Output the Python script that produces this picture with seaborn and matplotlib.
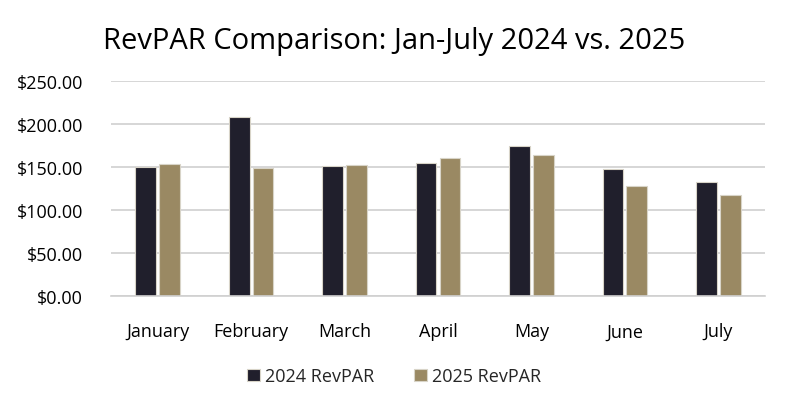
import pandas as pd
import matplotlib.pyplot as plt
import seaborn as sns
from matplotlib.ticker import FuncFormatter

# ------------------------
# Données
# ------------------------
months = ["January", "February", "March", "April", "May", "June", "July"]
revpar_2024 = [150, 208, 151, 155, 174, 148, 133]
revpar_2025 = [153, 149, 152, 160, 164, 128, 117]
series = ["2024 RevPAR", "2025 RevPAR"]
colors = ["#1e1d2e", "#a38c5a"]

df = pd.DataFrame({
    "month": months * 2,
    "value": revpar_2024 + revpar_2025,
    "series": [series[0]] * len(months) + [series[1]] * len(months),
})

# ------------------------
# Style
# ------------------------
sns.set_theme(style="white")
plt.rcParams["font.family"] = ["Open Sans", "DejaVu Sans"]

fig = plt.figure(figsize=(7.89, 4.10), dpi=100)
ax = fig.add_axes([0.1407, 0.2756, 0.8289, 0.5244])

sns.barplot(data=df, x="month", y="value", hue="series", order=months,
            hue_order=series, palette=colors, width=0.51, gap=0.13,
            edgecolor="#d8d4c8", linewidth=0.8, ax=ax, legend=True)

ax.set_ylim(0, 250)
ax.set_yticks(range(0, 251, 50))
ax.yaxis.set_major_formatter(FuncFormatter(lambda v, p: f"${v:,.2f}"))
ax.grid(axis="y", color="#d0d0d0", linewidth=1.2)
ax.set_axisbelow(True)
for s in ["top", "right", "left"]:
    ax.spines[s].set_visible(False)
ax.spines["bottom"].set_color("#d0d0d0")
ax.spines["bottom"].set_linewidth(1.2)
ax.tick_params(axis="both", length=0, labelsize=13, colors="#000000")
ax.tick_params(axis="x", pad=19)
ax.tick_params(axis="y", pad=20)
ax.set_xlabel("")
ax.set_ylabel("")

fig.text(0.5, 0.9, "RevPAR Comparison: Jan-July 2024 vs. 2025", ha="center",
         va="center", fontsize=21, color="#000000")

ax.legend(loc="center", bbox_to_anchor=(0.5, 0.08), bbox_transform=fig.transFigure,
          ncol=2, frameon=False, fontsize=13, handlelength=0.7, handleheight=0.7,
          handletextpad=0.3, columnspacing=2.2)

fig.savefig("out.png", dpi=100)
